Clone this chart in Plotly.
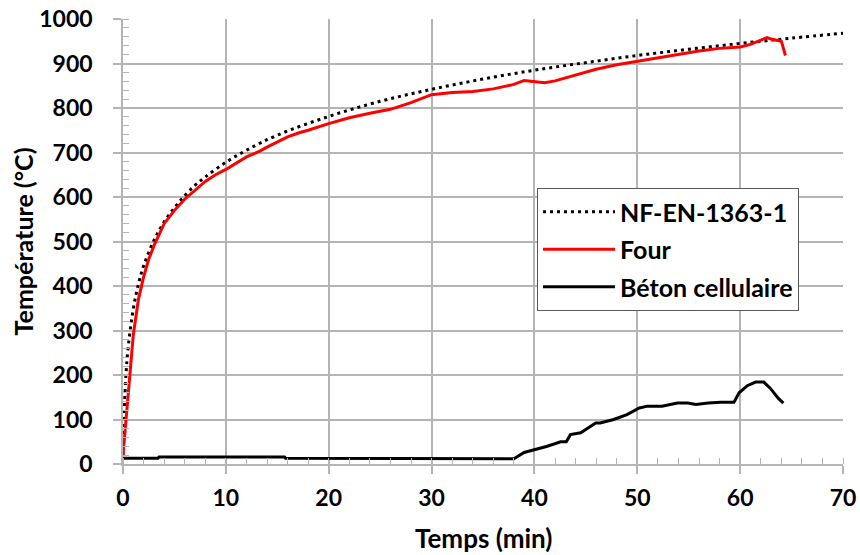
import plotly.graph_objects as go

# NF-EN-1363-1 standard curve
t_norm = [0, 0.25, 0.5, 1, 1.5, 2, 3, 4, 5, 6, 7, 8, 10, 12, 15, 20, 25, 30, 35, 40, 45, 50, 55, 60, 65, 70]
T_norm = [20, 185, 261, 349, 404, 445, 502, 544, 576, 603, 626, 645, 678, 705, 739, 781, 815, 842, 865, 885, 902, 918, 932, 945, 957, 968]

# Four (furnace)
t_four = [0, 0.5, 1, 1.5, 2, 2.5, 3, 4, 5, 6, 7, 8, 9, 10, 12, 13.3, 14, 16, 17.2, 18, 20, 22, 24, 26, 28, 30, 32, 34, 36, 38, 39, 40, 41, 42, 44, 46, 48, 50, 52, 54, 56, 58, 60, 61, 62, 62.6, 63, 64, 64.1, 64.4]
T_four = [20, 150, 290, 370, 420, 460, 490, 540, 570, 595, 615, 635, 650, 662, 690, 703, 712, 735, 745, 750, 765, 778, 788, 797, 812, 830, 835, 837, 843, 853, 862, 860, 857, 861, 874, 887, 897, 905, 912, 920, 928, 934, 937, 943, 952, 958, 955, 950, 943, 918]

# Béton cellulaire
t_beton = [0, 3.4, 3.5, 15.7, 15.8, 34.8, 38.0, 39.0, 39.95, 41.25, 42.55, 43.1, 43.5, 44.5, 45.96, 46.4, 47.7, 49.0, 50.2, 51.0, 52.4, 53.9, 54.9, 55.7, 56.9, 58.1, 59.4, 59.9, 60.7, 61.5, 62.3, 62.9, 63.7, 64.2]
T_beton = [13, 13, 16, 16, 13, 12, 12, 26, 32, 40, 50, 50, 66, 70, 92, 92, 100, 111, 126, 130, 130, 137, 137, 134, 137, 139, 139, 160, 176, 184, 184, 171, 148, 137]

x_ticks = [0, 10, 20, 30, 40, 50, 60, 70]
y_ticks = [0, 100, 200, 300, 400, 500, 600, 700, 800, 900, 1000]

FONT = "Lato"
GRID = "#b4b4b4"

fig = go.Figure()
fig.add_trace(go.Scatter(x=t_norm, y=T_norm, mode="lines", name="NF-EN-1363-1", legendgroup="a",
                         line=dict(color="black", width=3, dash="3px,4px", shape="spline")))
fig.add_trace(go.Scatter(x=t_four, y=T_four, mode="lines", name="Four", legendgroup="b",
                         line=dict(color="#ff0000", width=3)))
fig.add_trace(go.Scatter(x=t_beton, y=T_beton, mode="lines", name="Béton cellulaire", legendgroup="c",
                         line=dict(color="black", width=3)))

fig.update_layout(
    width=860, height=555,
    margin=dict(l=123, r=17, t=19, b=91),
    paper_bgcolor="white", plot_bgcolor="white",
    font=dict(family=FONT, color="black", size=20, weight="bold"),
    showlegend=True,
    legend=dict(x=0.575, y=0.62, xanchor="left", yanchor="top",
                bgcolor="white", bordercolor="#595959", borderwidth=1,
                font=dict(family=FONT, size=25, color="black", weight="bold"),
                itemwidth=72, tracegroupgap=2),
    annotations=[
        dict(text="Temps (min)", x=0.501, y=-0.166, xref="paper", yref="paper",
             xanchor="center", yanchor="middle", showarrow=False,
             font=dict(family=FONT, size=26, color="black", weight="bold")),
        dict(text="Température (°C)", x=-0.139, y=0.50, xref="paper", yref="paper",
             xanchor="center", yanchor="middle", showarrow=False, textangle=-90,
             font=dict(family=FONT, size=25, color="black", weight="bold")),
    ],
)
fig.update_xaxes(
    range=[0, 70], tickvals=x_ticks, ticktext=[str(v) for v in x_ticks],
    showgrid=True, gridcolor=GRID, gridwidth=1.5,
    showline=True, linecolor=GRID, linewidth=1.5,
    ticks="outside", ticklen=8, tickcolor=GRID, tickwidth=1.5,
    tickfont=dict(family=FONT, size=23, color="black", weight="bold"),
    ticklabelstandoff=5, automargin=False, ticklabeloverflow="allow",
    minor=dict(dtick=2, tick0=0, ticks="inside", ticklen=6, tickcolor=GRID, tickwidth=1.2, showgrid=False),
    zeroline=False,
)
fig.update_yaxes(
    range=[0, 1000], tickvals=y_ticks, ticktext=[str(v) for v in y_ticks],
    showgrid=True, gridcolor=GRID, gridwidth=1.5,
    showline=True, linecolor=GRID, linewidth=1.5,
    ticks="outside", ticklen=8, tickcolor=GRID, tickwidth=1.5,
    tickfont=dict(family=FONT, size=23, color="black", weight="bold"),
    ticklabelstandoff=16, automargin=False, ticklabeloverflow="allow",
    minor=dict(dtick=20, tick0=0, ticks="inside", ticklen=6, tickcolor=GRID, tickwidth=1.2, showgrid=False),
    zeroline=False,
)

# remove the default 8px page margin so the 860x555 figure fills the window exactly
fig.write_html("out.html",
               config={"displayModeBar": False},
               post_script="document.body.style.margin='0';document.body.style.overflow='hidden';")
